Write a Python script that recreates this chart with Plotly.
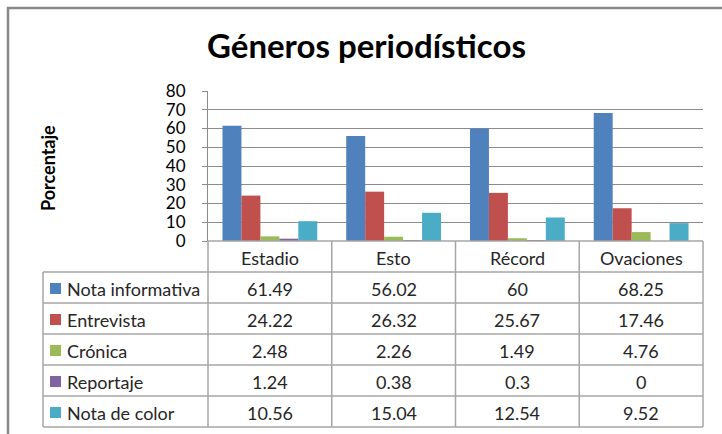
import plotly.graph_objects as go

categories = ["Estadio", "Esto", "Récord", "Ovaciones"]
series_names = ["Nota informativa", "Entrevista", "Crónica", "Reportaje", "Nota de color"]
nota_informativa = [61.49, 56.02, 60, 68.25]
entrevista = [24.22, 26.32, 25.67, 17.46]
cronica = [2.48, 2.26, 1.49, 4.76]
reportaje = [1.24, 0.38, 0.3, 0]
nota_de_color = [10.56, 15.04, 12.54, 9.52]
series_values = [nota_informativa, entrevista, cronica, reportaje, nota_de_color]
colors = ["#4F81BD", "#C0504D", "#9BBB59", "#8064A2", "#4BACC6"]
y_ticks = [0, 10, 20, 30, 40, 50, 60, 70, 80]

W, H = 722, 434
ML, MR, MT, MB = 208, 19, 91, 193
PW = W - ML - MR
PH = H - MT - MB
FONT = "Lato"
GRID = "#8C8C8C"
TLINE = "#A6A6A6"

def py(pix):
    return (H - MB - pix) / PH

def px(pix):
    return (pix - ML) / PW

fig = go.Figure()
for name, vals, col in zip(series_names, series_values, colors):
    fig.add_trace(go.Bar(x=categories, y=vals, name=name, marker_color=col,
                         marker_line_width=0, showlegend=False))

shapes = []
annotations = []
n = len(categories)
row_h = 31
top = H - MB
# horizontal lines of table
for k in range(0, 7):
    yy = py(top + k * row_h)
    x0 = px(43) if k >= 1 else 0
    shapes.append(dict(type="line", xref="paper", yref="paper", x0=x0, x1=1,
                       y0=yy, y1=yy, line=dict(color=TLINE, width=1.5)))
# vertical lines
for i in range(n + 1):
    xx = i / n
    shapes.append(dict(type="line", xref="paper", yref="paper", x0=xx, x1=xx,
                       y0=py(top), y1=py(top + 6 * row_h), line=dict(color=TLINE, width=1.5)))
shapes.append(dict(type="line", xref="paper", yref="paper", x0=px(43), x1=px(43),
                   y0=py(top + row_h), y1=py(top + 6 * row_h), line=dict(color=TLINE, width=1.5)))
# outer chart border
shapes.append(dict(type="rect", xref="paper", yref="paper", x0=px(8), x1=px(740),
                   y0=py(450), y1=py(8), line=dict(color="#888888", width=2.5)))

TXT = dict(family=FONT, size=18, color="#262626")
# header labels
for i, c in enumerate(categories):
    annotations.append(dict(x=i, y=py(top + row_h / 2 + 1), xref="x", yref="paper", text=c,
                            showarrow=False, font=TXT, xanchor="center", yanchor="middle"))
# rows
for r, (name, vals, col) in enumerate(zip(series_names, series_values, colors)):
    yc = py(top + row_h * (r + 1) + row_h / 2 + 1)
    shapes.append(dict(type="rect", xref="paper", yref="paper", x0=px(50), x1=px(61),
                       y0=yc - 5.5 / PH, y1=yc + 5.5 / PH, fillcolor=col, line=dict(width=0)))
    annotations.append(dict(x=px(65), y=yc, xref="paper", yref="paper", text=name,
                            showarrow=False, font=TXT, xanchor="left", yanchor="middle"))
    for i, v in enumerate(vals):
        annotations.append(dict(x=i, y=yc, xref="x", yref="paper", text=f"{v:g}",
                                showarrow=False, font=TXT, xanchor="center", yanchor="middle"))

# y axis title
annotations.append(dict(x=px(48), y=py(168), xref="paper", yref="paper", text="<b>Porcentaje</b>",
                        textangle=-90, showarrow=False, font=dict(family=FONT, size=18, color="#000000"),
                        xanchor="center", yanchor="middle"))
# title
annotations.append(dict(x=px(366), y=py(45), xref="paper", yref="paper", text="<b>Géneros periodísticos</b>",
                        showarrow=False, font=dict(family=FONT, size=33, color="#000000"),
                        xanchor="center", yanchor="middle"))

fig.update_layout(
    width=W, height=H,
    margin=dict(l=ML, r=MR, t=MT, b=MB, pad=0),
    paper_bgcolor="white", plot_bgcolor="white",
    barmode="group", bargap=0.234, bargroupgap=0,
    shapes=shapes, annotations=annotations,
    xaxis=dict(showticklabels=False, showgrid=False, showline=False, ticks="",
               range=[-0.5, n - 0.5], zeroline=False),
    yaxis=dict(range=[0, 80], tickvals=y_ticks, showgrid=True, gridcolor=GRID, gridwidth=1,
               showline=True, linecolor=GRID, linewidth=1, ticks="outside", ticklen=5,
               tickcolor=GRID, zeroline=False, ticklabelstandoff=13,
               tickfont=dict(family=FONT, size=17, color="#000000")),
)

fig.write_html("out.html", config={"displayModeBar": False},
               post_script="document.body.style.margin='0';document.body.style.overflow='hidden';")
